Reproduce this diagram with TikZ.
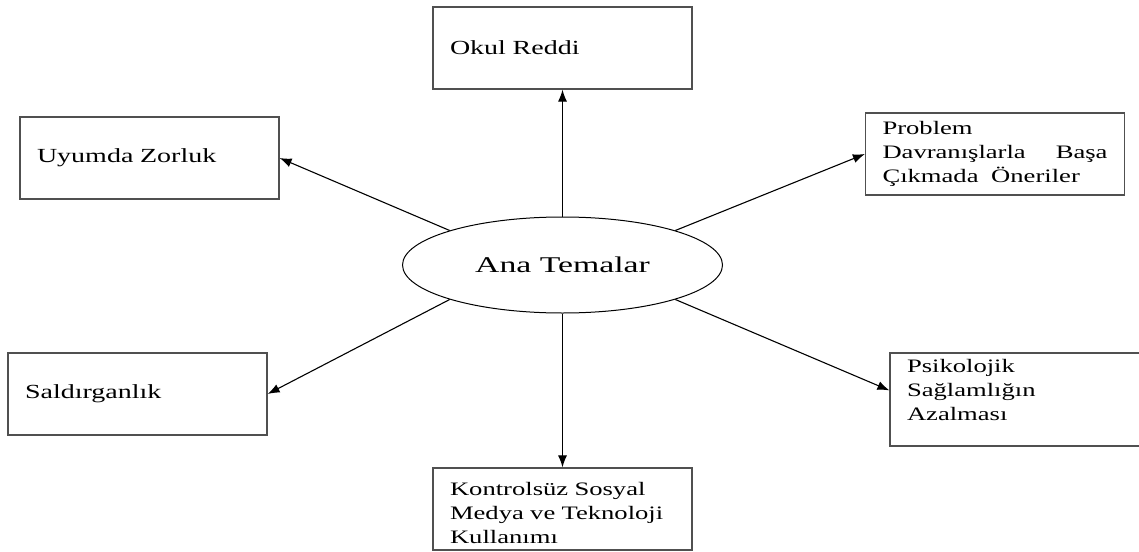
\documentclass[tikz,border=0pt]{standalone}
\usepackage{fontspec}
\setmainfont{Liberation Serif}[FakeStretch=1.4]
\newfontfamily\anafont{Liberation Serif}[FakeStretch=1.5]
\usepackage{tikz}
\usetikzlibrary{shapes,positioning,calc,arrows.meta}
\usepackage{xcolor}
\definecolor{kgray}{RGB}{80,80,80}

\begin{document}
\begin{tikzpicture}[x=1pt, y=-1pt,
    tema/.style={rectangle, draw=kgray, line width=1.2pt, minimum width=259pt, minimum height=82pt,
        inner xsep=17pt, inner ysep=2pt, text width=225pt, align=left, font=\fontsize{20}{24}\selectfont},
    uzun/.style={tema, font=\fontsize{19}{24}\selectfont},
    merkez/.style={ellipse, draw, line width=1pt, minimum width=320pt, minimum height=96pt, inner sep=0pt,
        font=\anafont\fontsize{22.5}{26}\selectfont}]

        \useasboundingbox (0,0) rectangle (1139,551);

        \node[merkez] (ana) at (562.5,265) {Ana Temalar};

        \node[tema] (okul) at (562.5,48) {Okul Reddi};
        \node[tema] (uyum) at (149.5,158) {Uyumda Zorluk};
        \node[tema] (saldir) at (137.5,394) {Saldırganlık};
        \node[uzun] (oneri) at (995,154) {Problem\\ Davranışlarla\hfill Başa\\ Çıkmada\ \ Öneriler};
        \node[uzun, minimum height=93pt, text height=13pt, text depth=68pt] (psiko) at (1019.5,399.5)
            {Psikolojik\\ Sağlamlığın\\ Azalması};
        \node[uzun, text height=25pt, text depth=52pt] (medya) at (562.5,509)
            {Kontrolsüz Sosyal\\ Medya ve Teknoloji\\ Kullanımı};

        \begin{scope}[
            every path/.style={-{Latex[length=12pt,width=9pt]}, draw=black, line width=1.1pt}
        ]
            \foreach \a/\b in {north/okul.south, 163/uyum.east, 17/oneri.west,
                               197/saldir.east, 343/psiko.176, south/medya.north} {
                \path (ana.\a) -- (\b);
            }
        \end{scope}

    \end{tikzpicture}
\end{document}
